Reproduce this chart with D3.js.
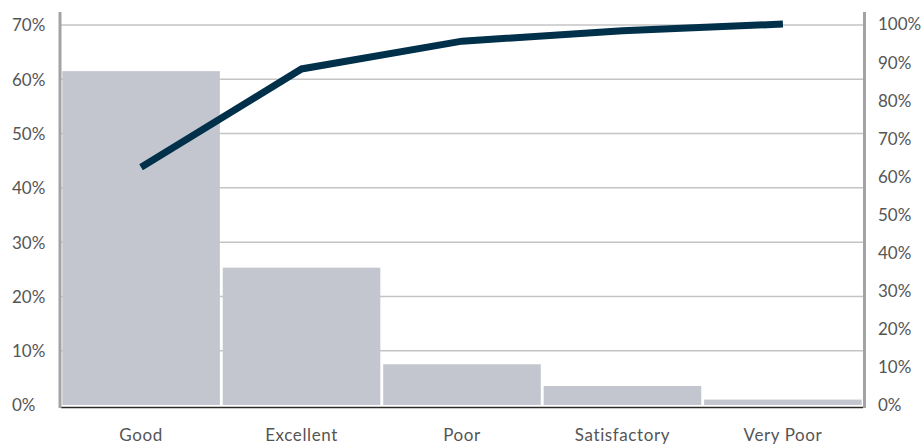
<!DOCTYPE html>
<html>
<head>
<meta charset="utf-8">
<script src="https://cdn.jsdelivr.net/npm/d3@7/dist/d3.min.js"></script>
<style>
  html, body { margin: 0; padding: 0; background: #fff; }
  svg { display: block; }
  text { font-family: Lato, "Open Sans", sans-serif; fill: #555; }
</style>
</head>
<body>
<div id="chart"></div>
<script>
// Ratings, share of responses (bars) and running total (line)
const categories = ["Good", "Excellent", "Poor", "Satisfactory", "Very Poor"];
const shares = [61.5, 25.3, 7.5, 3.5, 1.0];
const cumulative = [62.4, 88.2, 95.5, 98.2, 100];
const leftTicks = [0, 10, 20, 30, 40, 50, 60, 70];
const rightTicks = [0, 10, 20, 30, 40, 50, 60, 70, 80, 90, 100];

const W = 924, H = 445;
const plot = { left: 61, right: 863, top: 25, bottom: 405 };

const svg = d3.select("#chart").append("svg")
  .attr("width", W).attr("height", H);

const x = d3.scaleBand()
  .domain(categories)
  .range([plot.left, plot.right])
  .paddingInner(0.018)
  .paddingOuter(0.008);

const yL = d3.scaleLinear().domain([0, 70]).range([plot.bottom, plot.top]);
const yR = d3.scaleLinear().domain([0, 100]).range([plot.bottom, plot.top - 1]);

// horizontal gridlines
svg.append("g")
  .selectAll("line")
  .data(leftTicks.filter(d => d > 0))
  .join("line")
  .attr("x1", plot.left).attr("x2", plot.right)
  .attr("y1", d => yL(d)).attr("y2", d => yL(d))
  .attr("stroke", "#c4c4c4").attr("stroke-width", 1.5);

// bars
svg.append("g")
  .selectAll("rect")
  .data(categories)
  .join("rect")
  .attr("x", d => x(d))
  .attr("width", x.bandwidth())
  .attr("y", (d, i) => yL(shares[i]))
  .attr("height", (d, i) => yL(0) - yL(shares[i]))
  .attr("fill", "#c3c6ce");

// baseline
svg.append("line")
  .attr("x1", plot.left).attr("x2", plot.right)
  .attr("y1", plot.bottom + 2.5).attr("y2", plot.bottom + 2.5)
  .attr("stroke", "#2a2a2a").attr("stroke-width", 1.5);

// vertical axis rules
svg.append("line")
  .attr("x1", 60).attr("x2", 60).attr("y1", 12).attr("y2", plot.bottom + 3)
  .attr("stroke", "#a3a3a3").attr("stroke-width", 3);
svg.append("line")
  .attr("x1", 864.5).attr("x2", 864.5).attr("y1", 12).attr("y2", plot.bottom + 3)
  .attr("stroke", "#a3a3a3").attr("stroke-width", 3);

// cumulative line
const line = d3.line()
  .x((d, i) => x(categories[i]) + x.bandwidth() / 2)
  .y(d => yR(d));
svg.append("path")
  .datum(cumulative)
  .attr("d", line)
  .attr("fill", "none")
  .attr("stroke", "#00304a")
  .attr("stroke-width", 7)
  .attr("stroke-linejoin", "miter")
  .attr("stroke-linecap", "butt");

const pct = d => d + "%";

// left axis (labels left-aligned at the page edge)
const gL = svg.append("g")
  .attr("transform", `translate(${plot.left},0)`)
  .call(d3.axisLeft(yL).tickValues(leftTicks).tickFormat(pct).tickSize(0));
gL.select(".domain").remove();
gL.selectAll("text")
  .attr("x", 12 - plot.left)
  .attr("text-anchor", "start")
  .attr("dy", "0.35em")
  .style("font-size", "17px")
  .style("font-family", "Lato, 'Open Sans', sans-serif")
  .attr("fill", "#555");

// right axis
const gR = svg.append("g")
  .attr("transform", `translate(878,0)`)
  .call(d3.axisRight(yR).tickValues(rightTicks).tickFormat(pct).tickSize(0).tickPadding(0));
gR.select(".domain").remove();
gR.selectAll("text")
  .attr("dy", "0.35em")
  .style("font-size", "17px")
  .style("font-family", "Lato, 'Open Sans', sans-serif")
  .attr("fill", "#555");

// category axis
const gX = svg.append("g")
  .attr("transform", `translate(0,${plot.bottom})`)
  .call(d3.axisBottom(x).tickSize(0).tickPadding(0));
gX.select(".domain").remove();
gX.selectAll("text")
  .attr("y", 30)
  .attr("dy", "0.35em")
  .style("font-size", "17px")
  .style("letter-spacing", "0.6px")
  .style("font-family", "Lato, 'Open Sans', sans-serif")
  .attr("fill", "#555");
</script>
</body>
</html>
